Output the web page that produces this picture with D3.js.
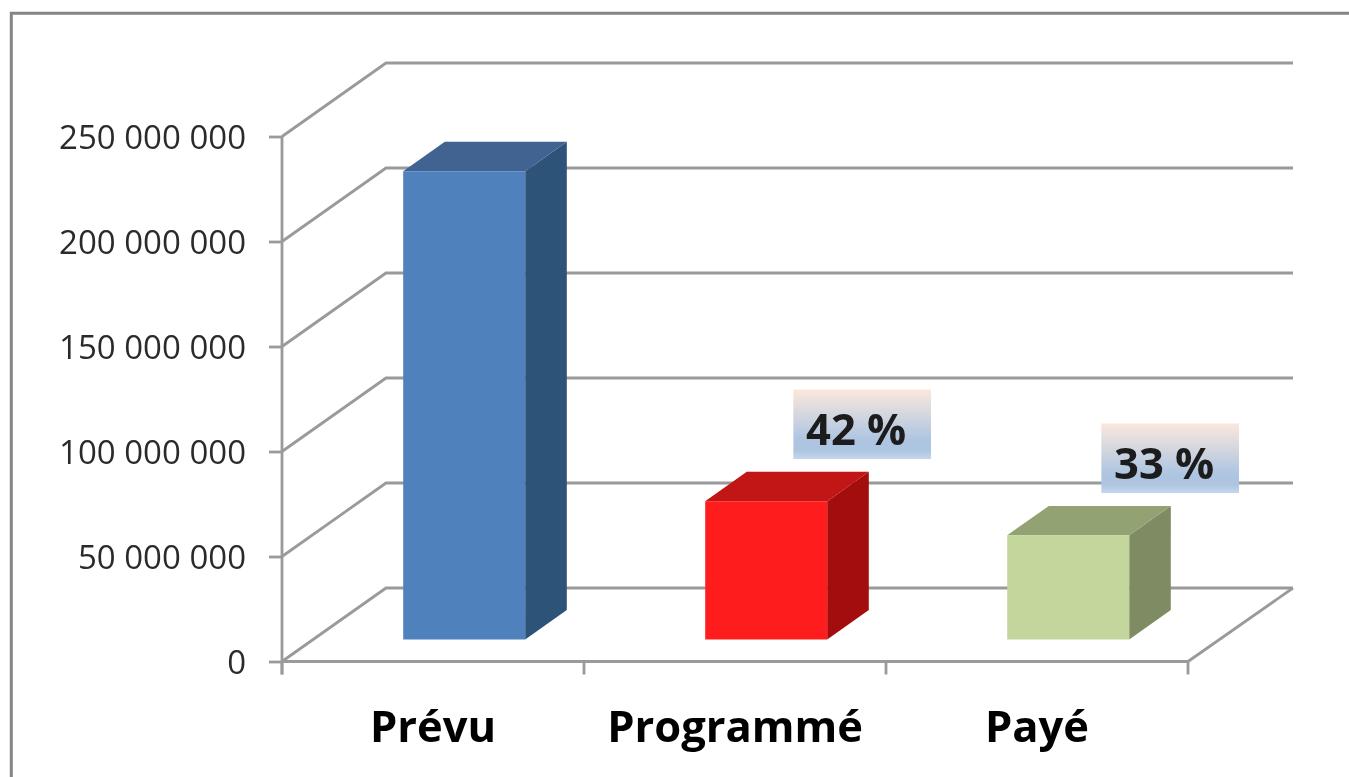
<!DOCTYPE html>
<html lang="fr">
<head>
  <meta charset="UTF-8">
  <title>Prévu, Programmé, Payé</title>
  <script src="https://d3js.org/d3.v7.min.js"></script>
  <style>
    html, body { margin: 0; padding: 0; background: #fff; overflow: hidden; }
    svg { display: block; }
  </style>
</head>
<body>
<svg></svg>
<script>
  // data
  const categories = ['Prévu', 'Programmé', 'Payé']
  const values = [223000000, 65800000, 49600000]
  const percentLabels = [null, '42 %', '33 %']
  const yTicks = [0, 50000000, 100000000, 150000000, 200000000, 250000000]
  const faceColors = ['#4f81bd', '#ff1e1e', '#c3d69b']
  const topColors = ['#3f6391', '#c21212', '#93a273']
  const sideColors = ['#2f5279', '#a3100e', '#7f8b63']

  const width = 1349, height = 777
  const gridColor = '#9a9a9a'

  const x = d3.scaleBand()
      .domain(categories)
      .range([282, 1188])
      .paddingInner(0.596)
      .paddingOuter(0.298)

  const y = d3.scaleLinear()
      .domain([0, 250000000])
      .range([661.5, 136.5])

  // depth of the 3D floor: 0 = front edge, 1 = back wall
  const depthX = d3.scaleLinear().domain([0, 1]).range([0, 104])
  const depthY = d3.scaleLinear().domain([0, 1]).range([0, -73.5])
  const barFront = 0.3, barBack = 0.7

  const pt = (px, v, depth) => [px + depthX(depth), y(v) + depthY(depth)]

  const svg = d3.select('svg')
      .attr('width', width)
      .attr('height', height)
      .attr('viewBox', [0, 0, width, height])

  const defs = svg.append('defs')
  const grad = defs.append('linearGradient')
      .attr('id', 'boxFill')
      .attr('x1', 0).attr('y1', 0).attr('x2', 0).attr('y2', 1)
  grad.append('stop').attr('offset', '0%').attr('stop-color', '#fbe8dc')
  grad.append('stop').attr('offset', '72%').attr('stop-color', '#aec5e2')
  grad.append('stop').attr('offset', '88%').attr('stop-color', '#aec5e2')
  grad.append('stop').attr('offset', '100%').attr('stop-color', '#c6d8ec')

  // the reference is a slightly soft upscaled screenshot
  defs.append('filter')
      .attr('id', 'soft')
      .attr('filterUnits', 'userSpaceOnUse')
      .attr('x', 0).attr('y', 0).attr('width', width).attr('height', height)
      .append('feGaussianBlur')
      .attr('stdDeviation', 0.55)

  const root = svg.append('g').attr('filter', 'url(#soft)')
  const line = d3.line()

  // outer frame, runs off the page on the right and bottom
  root.append('path')
      .attr('d', line([[11.3, height + 5], [11.3, 13.2], [width + 5, 13.2]]))
      .attr('fill', 'none')
      .attr('stroke', '#858585')
      .attr('stroke-width', 3)

  // wall gridlines
  root.append('g').selectAll('path')
      .data(yTicks)
      .join('path')
      .attr('d', t => line([pt(x.range()[0], t, 0), pt(x.range()[0], t, 1), [1293, y(t) + depthY(1)]]))
      .attr('fill', 'none')
      .attr('stroke', gridColor)
      .attr('stroke-width', 2.8)

  // right edge of the floor
  root.append('path')
      .attr('d', line([pt(x.range()[1], 0, 0), [1293, y(0) + depthY(1)]]))
      .attr('fill', 'none')
      .attr('stroke', gridColor)
      .attr('stroke-width', 2.8)

  // y axis
  const yAxis = root.append('g')
      .attr('transform', `translate(${x.range()[0]},0)`)
      .call(d3.axisLeft(y)
          .tickValues(yTicks)
          .tickSize(13)
          .tickPadding(23)
          .tickFormat(d => d3.format(',')(d).replace(/,/g, ' ')))
  yAxis.select('.domain').remove()
  yAxis.selectAll('line').attr('stroke', gridColor).attr('stroke-width', 2.8)
  yAxis.selectAll('text')
      .attr('font-family', 'Open Sans')
      .attr('font-size', 33)
      .attr('dy', '.35em')
      .attr('fill', '#2b2b2b')

  root.append('line')
      .attr('x1', x.range()[0]).attr('x2', x.range()[0])
      .attr('y1', y(250000000)).attr('y2', y(0) + 13)
      .attr('stroke', gridColor)
      .attr('stroke-width', 2.8)

  // x axis: ticks sit between the categories
  const step = x.step()
  const xEdges = d3.range(categories.length + 1).map(i => x.range()[0] + i * step)
  const xAxis = root.append('g')
      .attr('transform', `translate(0,${y(0)})`)
  xAxis.append('line')
      .attr('x1', x.range()[0]).attr('x2', x.range()[1])
      .attr('stroke', gridColor).attr('stroke-width', 2.8)
  xAxis.selectAll('.edge')
      .data(xEdges)
      .join('line')
      .attr('class', 'edge')
      .attr('x1', d => d).attr('x2', d => d)
      .attr('y1', 0).attr('y2', 13)
      .attr('stroke', gridColor).attr('stroke-width', 2.8)
  xAxis.selectAll('text')
      .data(categories)
      .join('text')
      .attr('x', d => x(d) + x.bandwidth() / 2)
      .attr('y', 80.5)
      .attr('text-anchor', 'middle')
      .attr('font-family', 'Open Sans')
      .attr('font-weight', 700)
      .attr('font-size', 43.5)
      .attr('fill', '#000')
      .text(d => d)

  // 3D bars
  const bar = root.append('g').selectAll('g')
      .data(categories)
      .join('g')

  const left = d => x(d)
  const right = d => x(d) + x.bandwidth()
  const val = d => values[categories.indexOf(d)]
  const idx = d => categories.indexOf(d)

  bar.append('path')  // right side
      .attr('d', d => line([
        pt(right(d), 0, barFront), pt(right(d), 0, barBack),
        pt(right(d), val(d), barBack), pt(right(d), val(d), barFront)]) + 'Z')
      .attr('fill', d => sideColors[idx(d)])

  bar.append('path')  // top
      .attr('d', d => line([
        pt(left(d), val(d), barFront), pt(left(d), val(d), barBack),
        pt(right(d), val(d), barBack), pt(right(d), val(d), barFront)]) + 'Z')
      .attr('fill', d => topColors[idx(d)])

  bar.append('path')  // front face
      .attr('d', d => line([
        pt(left(d), 0, barFront), pt(right(d), 0, barFront),
        pt(right(d), val(d), barFront), pt(left(d), val(d), barFront)]) + 'Z')
      .attr('fill', d => faceColors[idx(d)])

  // percent boxes above the bars
  const boxW = 138, boxH = 70
  const boxDx = [0, 57, 63]
  const label = root.append('g').selectAll('g')
      .data(categories.filter(d => percentLabels[idx(d)]))
      .join('g')
      .attr('transform', d => `translate(${pt(left(d), 0, barFront)[0] + boxDx[idx(d)] + 31},${pt(0, val(d), barFront)[1] - 112})`)
  label.append('rect')
      .attr('width', boxW)
      .attr('height', boxH)
      .attr('fill', 'url(#boxFill)')
  label.append('text')
      .attr('x', 63)
      .attr('y', 56)
      .attr('text-anchor', 'middle')
      .attr('font-family', 'Open Sans')
      .attr('font-weight', 700)
      .attr('font-size', 43.5)
      .attr('fill', '#1a1a1a')
      .text(d => percentLabels[idx(d)])
</script>
</body>
</html>
